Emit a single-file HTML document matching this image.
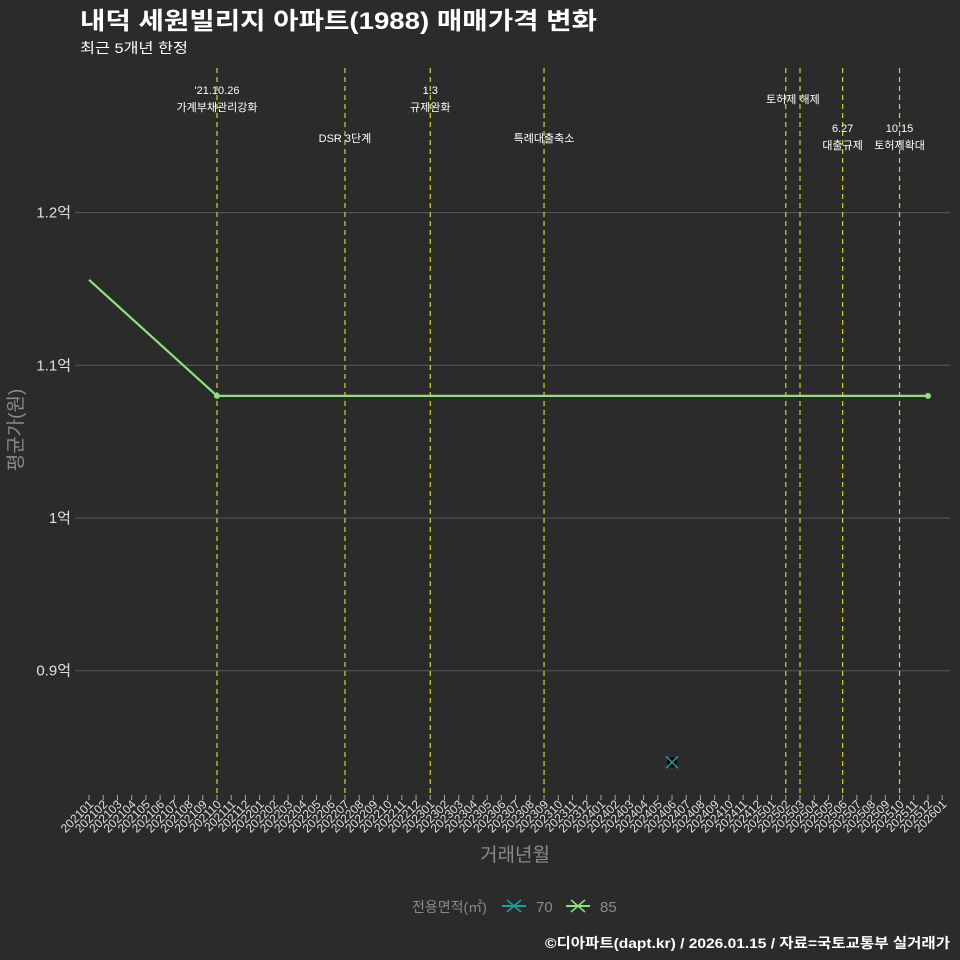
<!DOCTYPE html>
<html><head><meta charset="utf-8">
<style>
html,body{margin:0;padding:0;background:#2b2b2b;}
svg{display:block;font-family:"Liberation Sans","Noto Sans CJK KR",sans-serif;}
</style></head>
<body>
<svg id="chart" width="960" height="960" viewBox="0 0 960 960">
<rect width="960" height="960" fill="#2b2b2b"/>
<text x="80" y="29" font-size="24" font-weight="bold" fill="#ffffff" textLength="517" lengthAdjust="spacingAndGlyphs">내덕 세원빌리지 아파트(1988) 매매가격 변화</text>
<text x="80" y="53" font-size="14" fill="#ffffff" textLength="108" lengthAdjust="spacingAndGlyphs">최근 5개년 한정</text>
<g id="grid"></g>
<g id="events"></g>
<g id="series"></g>
<g id="xaxis"></g>
<text x="515" y="861" font-size="19" fill="#8a8a8a" text-anchor="middle">거래년월</text>
<text transform="translate(22,430) rotate(-90)" font-size="19" fill="#8a8a8a" text-anchor="middle">평균가(원)</text>
<g>
<text x="412" y="912" font-size="14" fill="#8a8a8a">전용면적(㎡)</text>
<g>
<line x1="502" y1="906" x2="526" y2="906" stroke="#1f9e9a" stroke-width="2"/>
<path d="M507,900 L521,912 M521,900 L507,912" stroke="#1f9e9a" stroke-width="1.5"/>
<text x="536" y="912" font-size="15" fill="#8a8a8a">70</text></g>
<g>
<line x1="566" y1="906" x2="590" y2="906" stroke="#8fe27a" stroke-width="2"/>
<path d="M571,900 L585,912 M585,900 L571,912" stroke="#8fe27a" stroke-width="1.5"/>
<text x="600" y="912" font-size="15" fill="#8a8a8a">85</text></g>
</g>
<text x="950" y="948" font-size="14" font-weight="bold" fill="#ffffff" text-anchor="end" textLength="405" lengthAdjust="spacingAndGlyphs">©디아파트(dapt.kr) / 2026.01.15 / 자료=국토교통부 실거래가</text>
</svg>
<script>
const months = [];
for (let y = 2021; y <= 2026; y++) for (let m = 1; m <= 12; m++) { if (y === 2026 && m > 1) break; months.push(String(y) + String(m).padStart(2, '0')); }
const yTicks = [0.9, 1.0, 1.1, 1.2];
const yTickLabels = ['0.9억', '1억', '1.1억', '1.2억'];
const series85Months = ['202101', '202110', '202512'];
const series85Values = [1.156, 1.08, 1.08];
const series70Months = ['202406'];
const series70Values = [0.84];
const eventMonths = ['202110', '202207', '202301', '202309', '202502', '202503', '202506', '202510'];
const eventLabels = [
  {m:'202110', lines:["'21.10.26","가계부채관리강화"], y:94},
  {m:'202207', lines:["DSR 3단계"], y:142},
  {m:'202301', lines:["1.3","규제완화"], y:94},
  {m:'202309', lines:["특례대출축소"], y:142},
  {m:'202502.5', lines:["토허제 해제"], y:103},
  {m:'202506', lines:["6.27","대출규제"], y:132},
  {m:'202510', lines:["10.15","토허제확대"], y:132}
];
const NS = 'http://www.w3.org/2000/svg';
function el(tag, attrs, parent){const e=document.createElementNS(NS,tag);for(const k in attrs)e.setAttribute(k,attrs[k]);parent.appendChild(e);return e;}
function xIdx(m){ if(m.indexOf('.')>0){const b=m.split('.')[0];return months.indexOf(b)+0.5;} return months.indexOf(m); }
function xs(m){ return 89 + xIdx(m) * 14.22; }
function ys(v){ return 518 - (v - 1.0) * 1527; }
const grid = document.getElementById('grid');
yTicks.forEach((t,i)=>{
  const l = el('line',{x1:75,x2:950,y1:ys(t),y2:ys(t),stroke:'#5a5a5a','stroke-width':1},grid);
  
  
  const tx = el('text',{x:71,y:ys(t)+5,'font-size':15,fill:'#e0e0e0','text-anchor':'end'},grid);
  tx.textContent = yTickLabels[i];
  
  
});
const ev = document.getElementById('events');
eventMonths.forEach(m=>{
  const l = el('line',{x1:xs(m),x2:xs(m),y1:68,y2:795,stroke:'#d4d42a','stroke-width':1.2,'stroke-dasharray':'5,4'},ev);
  
  
});
eventLabels.forEach(a=>{
  const t = el('text',{x:xs(a.m),y:a.y,'font-size':11,fill:'#ffffff','text-anchor':'middle'},ev);
  
  
  a.lines.forEach((s,i)=>{const ts=el('tspan',{x:xs(a.m),dy:i?17:0},t);ts.textContent=s;});
});
const sg = document.getElementById('series');
const pts = series85Months.map((m,i)=>xs(m)+','+ys(series85Values[i])).join(' ');
const pl = el('polyline',{points:pts,fill:'none',stroke:'#8fe27a','stroke-width':2.2},sg);


series85Months.forEach((m,i)=>{
  if(i===0) return;
  const c = el('circle',{cx:xs(m),cy:ys(series85Values[i]),r:3,fill:'#8fe27a'},sg);
  
  
});
series70Months.forEach((m,i)=>{
  const x=xs(m), y=ys(series70Values[i]);
  const c = el('circle',{cx:x,cy:y,r:5,fill:'#000000'},sg);
  
  
  const p = el('path',{d:`M${x-6},${y-6} L${x+6},${y+6} M${x+6},${y-6} L${x-6},${y+6}`,stroke:'#1f9e9a','stroke-width':1.5},sg);
  
  
});
const xa = document.getElementById('xaxis');
months.forEach(m=>{
  const x = xs(m);
  const tk = el('line',{x1:x,x2:x,y1:795,y2:800,stroke:'#aaaaaa','stroke-width':1},xa);
  
  
  const t = el('text',{transform:`translate(${x+5},${805}) rotate(-45)`,'font-size':12,fill:'#e0e0e0','text-anchor':'end'},xa);
  t.textContent = m;
  
  
});
</script>
</body></html>
